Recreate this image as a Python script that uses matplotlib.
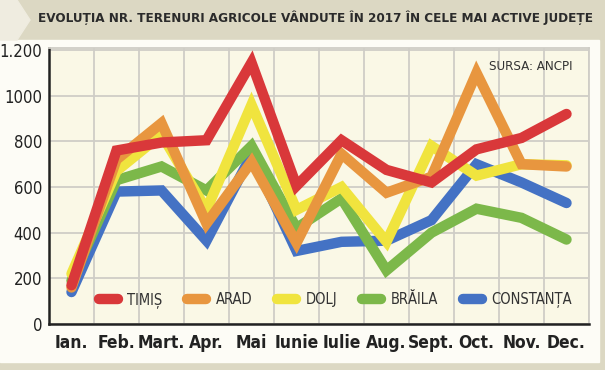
import matplotlib.pyplot as plt
from matplotlib.patches import Rectangle, Polygon
from matplotlib.lines import Line2D
from matplotlib import font_manager

months = ['Ian.', 'Feb.', 'Mart.', 'Apr.', 'Mai', 'Iunie', 'Iulie',
          'Aug.', 'Sept.', 'Oct.', 'Nov.', 'Dec.']
timis = [170, 760, 795, 805, 1145, 605, 805, 675, 620, 765, 815, 920]
arad = [160, 720, 880, 440, 710, 355, 745, 575, 645, 1100, 700, 690]
dolj = [220, 670, 830, 500, 960, 500, 600, 360, 780, 650, 700, 695]
braila = [190, 630, 690, 585, 780, 420, 550, 235, 400, 505, 465, 370]
constanta = [140, 580, 585, 365, 740, 320, 360, 365, 455, 700, 620, 530]

series = [('TIMIȘ', timis, '#d9383a'),
          ('ARAD', arad, '#e8963f'),
          ('DOLJ', dolj, '#f0e43e'),
          ('BRĂILA', braila, '#7cb84a'),
          ('CONSTANȚA', constanta, '#4472c4')]

# look for a condensed face, otherwise fall back to Liberation Sans
narrow, stretch = 'Liberation Sans', 'normal'
for f in font_manager.fontManager.ttflist:
    if 'Narrow' in f.name or 'Condensed' in f.name or 'condensed' in str(f.stretch):
        narrow, stretch = f.name, f.stretch
        break
plt.rcParams['font.family'] = [narrow, 'DejaVu Sans']
plt.rcParams['font.stretch'] = stretch

W, H = 605, 370
fig = plt.figure(figsize=(W / 100, H / 100), dpi=100)
fig.patch.set_facecolor('#dcd8c3')

# light panel under the chart
fig.patches.append(Rectangle((0, 8 / H), 599 / W, (362 - 40) / H,
                             transform=fig.transFigure, color='#fdfcf6', zorder=-10))
# lighter chevron in the title band
pts = [(0, 0), (17, 0), (30, 20), (17, 40), (0, 40)]
fig.patches.append(Polygon([(x / W, 1 - y / H) for x, y in pts], closed=True,
                           transform=fig.transFigure, color='#efece0', zorder=-10))

title = fig.text(38 / W, 1 - 18 / H,
                 'EVOLUȚIA NR. TERENURI AGRICOLE VÂNDUTE ÎN 2017 ÎN CELE MAI ACTIVE JUDEȚE',
                 fontsize=15, fontweight='heavy', fontstretch='extra-condensed',
                 color='#2b2b2b', va='center', ha='left')
# shrink title until it fits the band
fig.canvas.draw()
r = fig.canvas.get_renderer()
while title.get_window_extent(r).x1 > 598 and title.get_fontsize() > 6:
    title.set_fontsize(title.get_fontsize() - 0.1)

ax = fig.add_axes([49 / W, 1 - 324 / H, (589 - 49) / W, (324 - 48) / H])
ax.set_facecolor('#faf8e6')

x = range(len(months))
for i, (name, vals, col) in enumerate(series):
    ax.plot(x, vals, color=col, lw=7.5, solid_capstyle='round',
            solid_joinstyle='miter', zorder=10 - i)

ax.set_xlim(-0.5, 11.5)
ax.set_ylim(0, 1209)
ax.set_xticks([i + 0.5 for i in range(-1, 12)])
ax.set_xticks(list(x), minor=True)
ax.set_xticklabels([''] * 13)
ax.set_xticklabels(months, minor=True, fontsize=12.5, fontweight='bold', color='#222222')
ax.set_yticks([0, 200, 400, 600, 800, 1000, 1200])
ax.set_yticklabels(['0', '200', '400', '600', '800', '1000', '1.200'],
                   fontsize=12, color='#222222')
ax.tick_params(axis='both', which='both', length=0)
ax.tick_params(axis='x', which='minor', pad=7)
ax.tick_params(axis='y', pad=5)
ax.grid(True, which='major', color='#cfcdc6', lw=1.3)
ax.set_axisbelow(True)

for s in ['top', 'right']:
    ax.spines[s].set_color('#cfcdc6')
    ax.spines[s].set_linewidth(1.3)
for s in ['left', 'bottom']:
    ax.spines[s].set_color('#222222')
    ax.spines[s].set_linewidth(1.8)

ax.text(0.97, 0.955, 'SURSA: ANCPI', transform=ax.transAxes, ha='right', va='top',
        fontsize=9.5, color='#333333')

handles = [Line2D([0], [0], color=c, lw=7.5, solid_capstyle='round') for _, _, c in series]
leg = ax.legend(handles, [n for n, _, _ in series], loc='lower center', ncol=5,
                bbox_to_anchor=(0.53, 0.01), frameon=False, fontsize=10.5,
                handlelength=1.3, handletextpad=0.65, columnspacing=1.7)
for t in leg.get_texts():
    t.set_color('#333333')

plt.savefig('out.png', dpi=100, facecolor=fig.get_facecolor())
